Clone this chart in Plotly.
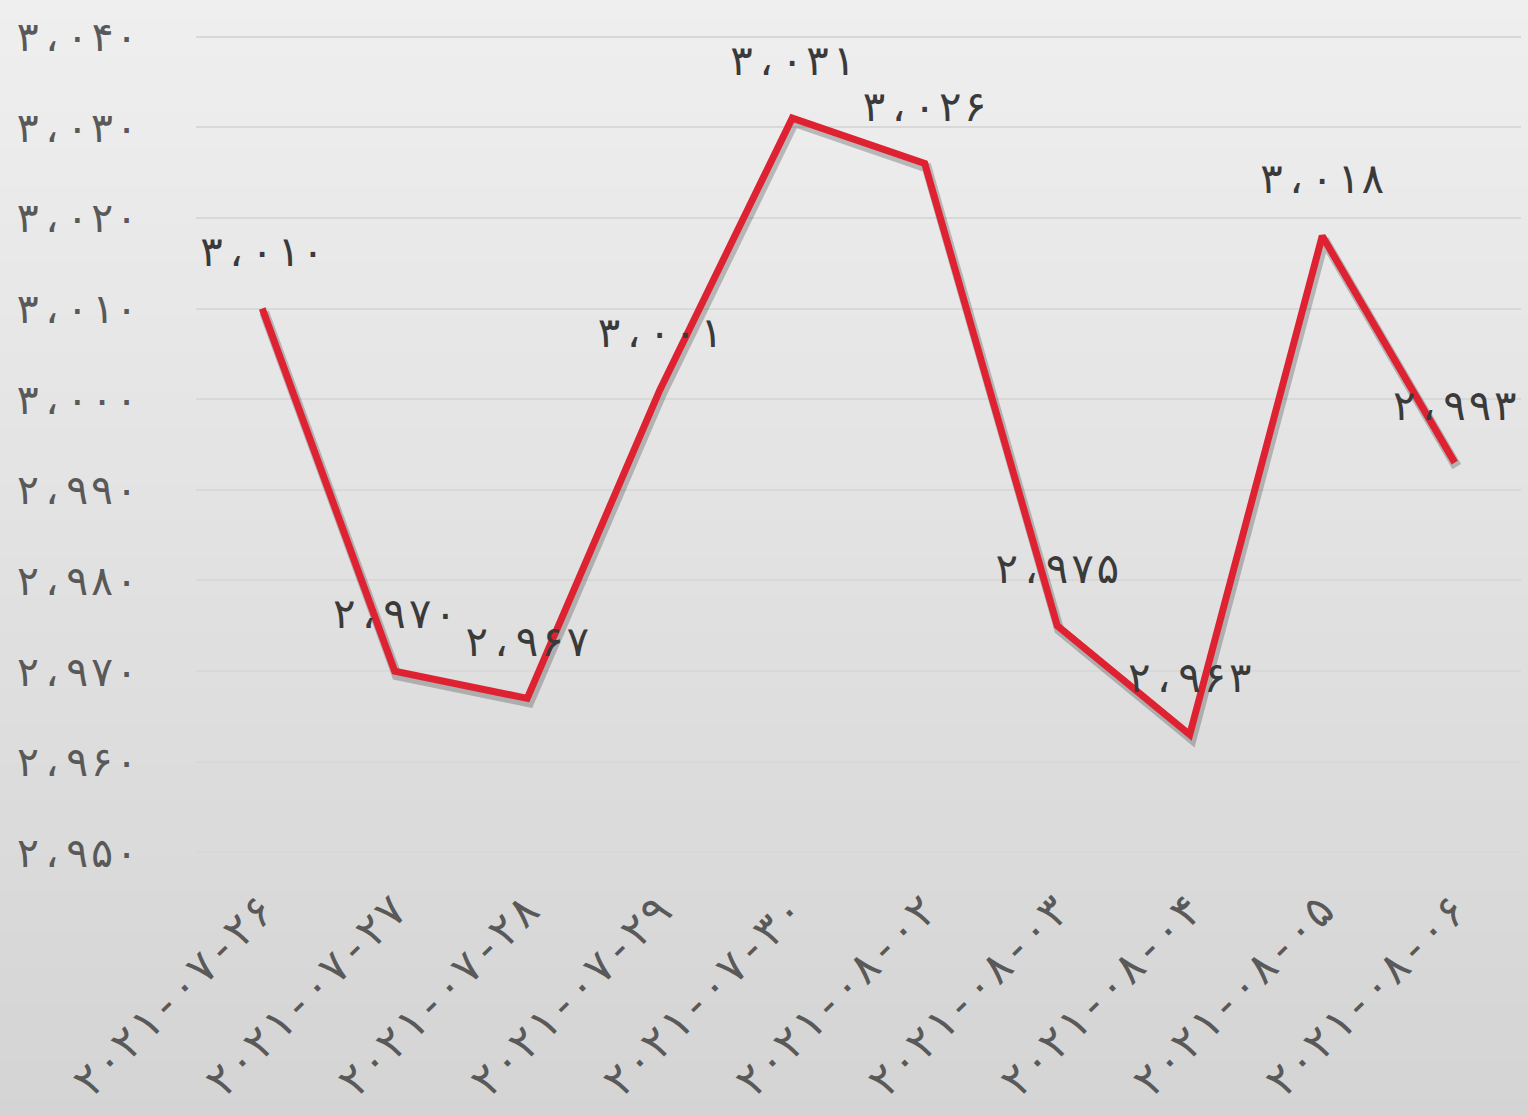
import plotly.graph_objects as go

# ---- data ----
dates = ["۲۰۲۱-۰۷-۲۶", "۲۰۲۱-۰۷-۲۷", "۲۰۲۱-۰۷-۲۸", "۲۰۲۱-۰۷-۲۹", "۲۰۲۱-۰۷-۳۰",
         "۲۰۲۱-۰۸-۰۲", "۲۰۲۱-۰۸-۰۳", "۲۰۲۱-۰۸-۰۴", "۲۰۲۱-۰۸-۰۵", "۲۰۲۱-۰۸-۰۶"]
values = [3010, 2970, 2967, 3001, 3031, 3026, 2975, 2963, 3018, 2993]
value_labels = ["۳،۰۱۰", "۲،۹۷۰", "۲،۹۶۷", "۳،۰۰۱", "۳،۰۳۱", "۳،۰۲۶", "۲،۹۷۵", "۲،۹۶۳", "۳،۰۱۸", "۲،۹۹۳"]
ytick_vals = [2950, 2960, 2970, 2980, 2990, 3000, 3010, 3020, 3030, 3040]
ytick_text = ["۲،۹۵۰", "۲،۹۶۰", "۲،۹۷۰", "۲،۹۸۰", "۲،۹۹۰", "۳،۰۰۰", "۳،۰۱۰", "۳،۰۲۰", "۳،۰۳۰", "۳،۰۴۰"]

# ---- layout geometry (styling) ----
W, H = 1528, 1116
YMIN, YMAX, YPAD = 2950, 3040, 0.5
px_per_unit = 815 / 90.0
ML, MR = 196, 7
MT = 37 - YPAD * px_per_unit
MB = 264 - YPAD * px_per_unit
plot_h = H - MT - MB
plot_w = W - ML - MR
FONT = "DejaVu Sans Mono, DejaVu Sans"
xs = list(range(len(values)))
XR = [-0.5, len(values) - 0.5]
YR = [YMIN - YPAD, YMAX + YPAD]

fig = go.Figure()

# invisible trace anchoring the visible primary axes
fig.add_trace(go.Scatter(x=xs, y=values, mode="none", hoverinfo="skip", showlegend=False))

# shadow trace on offset overlay axes (drawn beneath the main line)
dy_px, dx_px = 4, 2
ysh = (YR[1] - YR[0]) * dy_px / plot_h
xsh = (XR[1] - XR[0]) * dx_px / plot_w
fig.add_trace(go.Scatter(
    x=xs, y=values, mode="lines",
    line=dict(color="rgba(0,0,0,0.22)", width=10),
    xaxis="x2", yaxis="y2", hoverinfo="skip", showlegend=False))

fig.add_trace(go.Scatter(
    x=xs, y=values, mode="lines+markers+text",
    line=dict(color="#df2232", width=7),
    marker=dict(size=50, color="rgba(0,0,0,0)"),
    text=value_labels, textposition="top center",
    textfont=dict(family=FONT, size=42, color="#3a3a3a"),
    xaxis="x3", yaxis="y3", cliponaxis=False,
    showlegend=False))

# gradient background bands in paper coordinates
n = 60
for i in range(n):
    py0 = H * i / n
    py1 = H * (i + 1) / n + 1
    t = (i + 0.5) / n
    c = int(round(239 - (239 - 212) * t))
    fig.add_shape(type="rect", xref="paper", yref="paper", layer="below",
                  x0=-ML / plot_w, x1=1 + MR / plot_w,
                  y0=(H - MB - py1) / plot_h, y1=(H - MB - py0) / plot_h,
                  line=dict(width=0), fillcolor=f"rgb({c},{c},{c})")

fig.update_layout(
    width=W, height=H,
    margin=dict(l=ML, r=MR, t=MT, b=MB, pad=0),
    paper_bgcolor="#e4e4e4", plot_bgcolor="rgba(0,0,0,0)",
    font=dict(family=FONT, color="#595959"),
    xaxis=dict(range=XR, tickvals=xs, ticktext=dates, showgrid=False, zeroline=False,
               showline=False, tickangle=-45, ticks="", ticklabelstandoff=17,
               tickfont=dict(family=FONT, size=44, color="#595959")),
    yaxis=dict(range=YR, tickvals=ytick_vals, ticktext=ytick_text,
               showgrid=True, gridcolor="#d8d8d8", gridwidth=2, zeroline=False,
               showline=False, ticks="", ticklabelstandoff=56,
               tickfont=dict(family=FONT, size=41, color="#595959")),
    xaxis2=dict(overlaying="x", range=[XR[0] - xsh, XR[1] - xsh], visible=False),
    yaxis2=dict(overlaying="y", range=[YR[0] + ysh, YR[1] + ysh], visible=False),
    xaxis3=dict(overlaying="x", range=XR, visible=False),
    yaxis3=dict(overlaying="y", range=YR, visible=False),
)

fig.write_html("out.html", config={"displayModeBar": False},
               post_script="document.body.style.margin='0';")
